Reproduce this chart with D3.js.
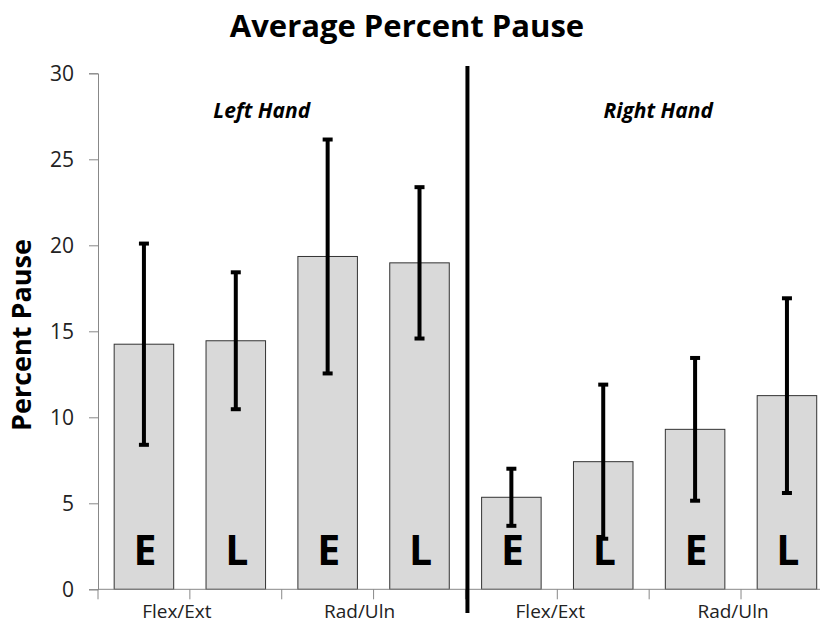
<!DOCTYPE html>
<html><head><meta charset="utf-8">
<script src="https://cdn.jsdelivr.net/npm/d3@7"></script>
<style>body{margin:0;background:#fff}</style>
</head><body>
<svg id="chart" width="820" height="625"></svg>
<script>
const categories = ["LH-FE-E","LH-FE-L","LH-RU-E","LH-RU-L","RH-FE-E","RH-FE-L","RH-RU-E","RH-RU-L"];
const barLetters = ["E","L","E","L","E","L","E","L"];
const means = [14.25, 14.45, 19.35, 18.98, 5.35, 7.42, 9.3, 11.26];
const errors = [5.85, 3.98, 6.8, 4.4, 1.66, 4.48, 4.15, 5.66];
const groupLabels = ["Flex/Ext","Rad/Uln","Flex/Ext","Rad/Uln"];
const handLabels = ["Left Hand","Right Hand"];
const yTicks = [0,5,10,15,20,25,30];

const svg = d3.select("#chart");
const font = "'Open Sans', sans-serif";
const left = 98, step = 91.86, y0 = 589.3, yTop = 73.3;

const x = d3.scaleBand().domain(categories)
  .range([left, left + step * categories.length])
  .paddingInner(0.352).paddingOuter(0.176);
const y = d3.scaleLinear().domain([0, 30]).range([y0, yTop]);

// title
svg.append("text").attr("x", 407).attr("y", 37).attr("text-anchor","middle")
  .attr("font-family", font).attr("font-weight", 700).attr("font-size", 31)
  .attr("fill","#000").text("Average Percent Pause");

// y axis
const yAxis = svg.append("g").attr("transform", `translate(${left},0)`)
  .call(d3.axisLeft(y).tickValues(yTicks).tickSize(9).tickPadding(15));
yAxis.select(".domain").attr("stroke","#888");
yAxis.selectAll(".tick line").attr("stroke","#888");
yAxis.selectAll(".tick text").attr("font-family", font).attr("font-size", 21).attr("fill","#222");

svg.append("text").attr("transform", `translate(31,335) rotate(-90)`)
  .attr("text-anchor","middle").attr("font-family", font).attr("font-weight",700)
  .attr("font-size", 27).attr("fill","#000").text("Percent Pause");

// bars
const data = categories.map((c,i)=>({c, m: means[i], e: errors[i], letter: barLetters[i]}));
svg.append("g").selectAll("rect").data(data).join("rect")
  .attr("x", d=>x(d.c)).attr("width", x.bandwidth())
  .attr("y", d=>y(d.m)).attr("height", d=>y(0)-y(d.m))
  .attr("fill","#d9d9d9").attr("stroke","#333").attr("stroke-width",1);

// letters
svg.append("g").selectAll("text").data(data).join("text")
  .attr("x", d=>x(d.c)+x.bandwidth()/2+1).attr("y", y(0)-24)
  .attr("text-anchor","middle").attr("font-family", font).attr("font-weight",700)
  .attr("font-size", 41).attr("fill","#000").text(d=>d.letter);

// error bars
const eb = svg.append("g").selectAll("g").data(data).join("g");
eb.append("line").attr("x1", d=>x(d.c)+x.bandwidth()/2).attr("x2", d=>x(d.c)+x.bandwidth()/2)
  .attr("y1", d=>y(d.m+d.e)).attr("y2", d=>y(d.m-d.e)).attr("stroke","#000").attr("stroke-width",4);
[1,-1].forEach(s=>{
  eb.append("line").attr("x1", d=>x(d.c)+x.bandwidth()/2-5).attr("x2", d=>x(d.c)+x.bandwidth()/2+5)
    .attr("y1", d=>y(d.m+s*d.e)).attr("y2", d=>y(d.m+s*d.e)).attr("stroke","#000").attr("stroke-width",4);
});

// x axis
const bounds = d3.range(categories.length+1).map(i=>left+i*x.step());
svg.append("line").attr("x1",left).attr("x2",820).attr("y1",y0).attr("y2",y0).attr("stroke","#888");
svg.append("g").selectAll("line").data(bounds).join("line")
  .attr("x1",d=>d).attr("x2",d=>d).attr("y1",y0).attr("y2",y0+10).attr("stroke","#888");

const groupPos = [1,3,5,7].map(i=>bounds[i]);
const groupOff = [-13,-14,-7,-8];
svg.append("g").selectAll("text").data(groupLabels).join("text")
  .attr("x",(d,i)=>groupPos[i]+groupOff[i]).attr("y",618).attr("text-anchor","middle")
  .attr("font-family", font).attr("font-size",19).attr("fill","#222").text(d=>d);

// divider
svg.append("line").attr("x1",bounds[4]+2).attr("x2",bounds[4]+2).attr("y1",66).attr("y2",613)
  .attr("stroke","#000").attr("stroke-width",4);

// hand labels
const handPos = [bounds[2]-20, bounds[6]+9];
svg.append("g").selectAll("text").data(handLabels).join("text")
  .attr("x",(d,i)=>handPos[i]).attr("y",118).attr("text-anchor","middle")
  .attr("font-family", font).attr("font-weight",700).attr("font-style","italic")
  .attr("font-size",21).attr("fill","#000").text(d=>d);
</script>
</body></html>
